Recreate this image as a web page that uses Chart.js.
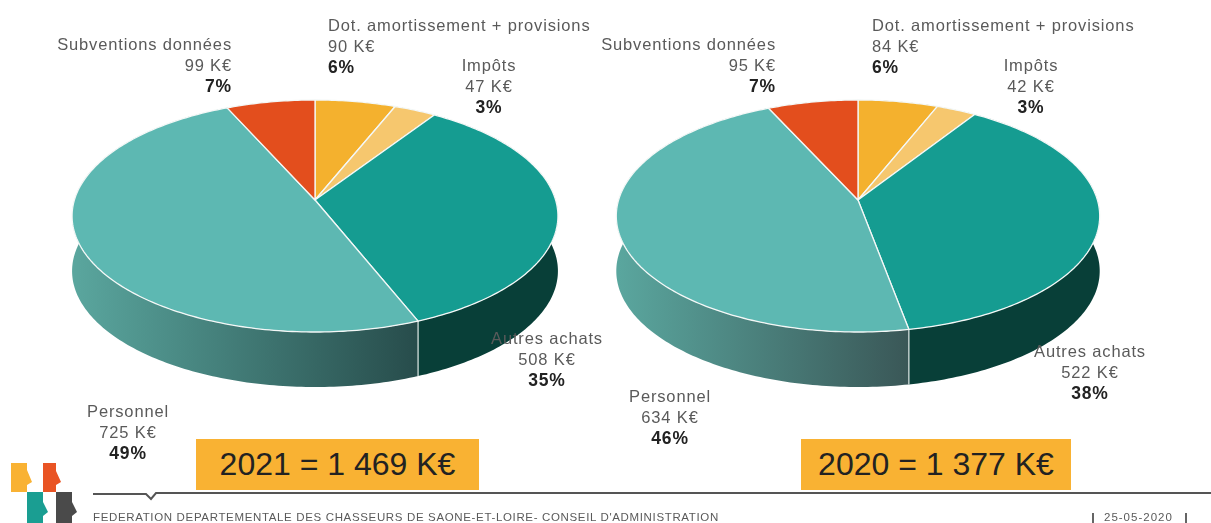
<!DOCTYPE html>
<html>
<head>
<meta charset="utf-8">
<script src="https://cdn.jsdelivr.net/npm/chart.js@4"></script>
<style>
html, body { margin: 0; background: #fff; }
#page { position: relative; width: 1211px; height: 523px; overflow: hidden; background: #fff; font-family: "Liberation Sans", Arial, sans-serif; filter: blur(0.7px); }
canvas { position: absolute; }
.lbl { position: absolute; font-size: 16.5px; line-height: 21px; color: #5a5a5a; white-space: nowrap; letter-spacing: 0.85px; }
.lbl b { color: #222; font-size: 17.5px; }
.total { position: absolute; top: 439px; height: 51px; line-height: 51px; background: #f9b233; color: #222; font-size: 32px; text-align: center; }
#foot { position: absolute; left: 0; top: 0; }
.footText { position: absolute; font-size: 11.5px; color: #5a5a5a; white-space: nowrap; }
</style>
</head>
<body>
<div id="page">
  <canvas id="pie2021" width="500" height="384" style="left:65px;top:8px"></canvas>
  <canvas id="pie2020" width="500" height="384" style="left:608px;top:8px"></canvas>
  <svg id="foot" width="1211" height="523">
    <polygon points="11,463 27,463 27,470 32,482 27,485 27,492 11,492" fill="#f9b233"/>
    <polygon points="43,463 56,463 56,471 61,482 56,485 56,492 43,492" fill="#e95424"/>
    <polygon points="27,492 43,492 43,502 48,512 43,516 43,523 27,523" fill="#1a9e92"/>
    <polygon points="56,492 72,492 72,502 77,512 72,516 72,523 56,523" fill="#4a4a4a"/>
    <path d="M93 494 H146 L151 499 L156 493 H1211" fill="none" stroke="#555" stroke-width="2"/>
    <path d="M1093 513 V523 M1186 513 V523" stroke="#333" stroke-width="1.5"/>
  </svg>
  <div class="total" style="left:196px;width:283px" id="total2021"></div>
  <div class="total" style="left:801px;width:270px" id="total2020"></div>
  <div class="footText" style="left:93px;top:511px;letter-spacing:0.65px">FEDERATION DEPARTEMENTALE DES CHASSEURS DE SAONE-ET-LOIRE- CONSEIL D'ADMINISTRATION</div>
  <div class="footText" style="left:1104px;top:511px;letter-spacing:1px">25-05-2020</div>
</div>
<script>
// data ---------------------------------------------
const categories = ["Dot. amortissement + provisions", "Impôts", "Autres achats", "Personnel", "Subventions données"];
const values2021 = [90, 47, 508, 725, 99];
const values2020 = [84, 42, 522, 634, 95];
const percents2021 = ["6%", "3%", "35%", "49%", "7%"];
const percents2020 = ["6%", "3%", "38%", "46%", "7%"];
const totals = ["2021 = 1 469 K€", "2020 = 1 377 K€"];

const topColors = ["#f4b12e", "#f6c76e", "#159c91", "#5db8b2", "#e34e1d"];
const sideColors = ["#a87a1c", "#a88a4c", "#083f38", null, "#9a3412"];

// label boxes, one per category: anchor x, first line y, alignment
const pos2021 = [[328, 25, "left"], [489, 65, "center"], [547, 338, "center"], [128, 411, "center"], [232, 44, "right"]];
const pos2020 = [[872, 25, "left"], [1031, 65, "center"], [1090, 351, "center"], [670, 396, "center"], [776, 44, "right"]];

// fake 3D pie: the library computes the arcs, this plugin projects them ------
const persp = -0.138; // tilt of the disc
const depth = 55;

function project(cx, cy, sx, sy, angle) {
  const u = Math.cos(angle), v = Math.sin(angle), d = 1 + persp * v;
  return [cx + (sx * u) / d, cy + (sy * v) / d];
}

function arcPoints(el, sx, sy) {
  const { x, y, startAngle, endAngle } = el.getProps(["x", "y", "startAngle", "endAngle"]);
  const pts = [];
  const steps = Math.max(8, Math.ceil((endAngle - startAngle) * 60));
  for (let i = 0; i <= steps; i++) {
    pts.push(project(x, y, sx, sy, startAngle + ((endAngle - startAngle) * i) / steps));
  }
  return pts;
}

const tiltPlugin = {
  id: "tilt",
  beforeDatasetDraw(chart, args, opts) {
    const ctx = chart.ctx;
    const els = args.meta.data;
    const sx = opts.sx, sy = 113.8;
    ctx.save();
    // side band first, the top face hides the back of it
    els.forEach((el, i) => {
      const pts = arcPoints(el, sx, sy);
      ctx.beginPath();
      pts.forEach((p, k) => (k ? ctx.lineTo(p[0], p[1]) : ctx.moveTo(p[0], p[1])));
      pts.slice().reverse().forEach((p) => ctx.lineTo(p[0], p[1] + depth));
      ctx.closePath();
      if (sideColors[i]) {
        ctx.fillStyle = sideColors[i];
      } else {
        const seam = pts[0][0];
        const g = ctx.createLinearGradient(el.x - sx, 0, seam, 0);
        g.addColorStop(0, opts.gradFrom);
        g.addColorStop(1, opts.gradTo);
        ctx.fillStyle = g;
      }
      ctx.fill();
    });
    // white seam between the two visible sides
    const seamPt = arcPoints(els[3], sx, sy)[0];
    ctx.strokeStyle = "#dfe9e7";
    ctx.lineWidth = 1.2;
    ctx.beginPath();
    ctx.moveTo(seamPt[0], seamPt[1]);
    ctx.lineTo(seamPt[0], seamPt[1] + depth);
    ctx.stroke();
    // top face
    els.forEach((el, i) => {
      const pts = arcPoints(el, sx, sy);
      ctx.beginPath();
      ctx.moveTo(el.x, el.y);
      pts.forEach((p) => ctx.lineTo(p[0], p[1]));
      ctx.closePath();
      ctx.fillStyle = topColors[i];
      ctx.fill();
      ctx.strokeStyle = "#f4f8f7";
      ctx.lineWidth = 1.3;
      ctx.lineJoin = "round";
      ctx.stroke();
    });
    ctx.restore();
    return false;
  },
};

function makePie(id, values, sx, gradFrom, gradTo) {
  return new Chart(document.getElementById(id), {
    type: "pie",
    data: {
      labels: categories,
      datasets: [{ data: values, backgroundColor: topColors, borderWidth: 0 }],
    },
    options: {
      responsive: false,
      animation: false,
      plugins: {
        legend: { display: false },
        tooltip: { enabled: false },
        tilt: { sx: sx, gradFrom: gradFrom, gradTo: gradTo },
      },
    },
    plugins: [tiltPlugin],
  });
}

makePie("pie2021", values2021, 240.6, "#5aa69e", "#274c4b");
makePie("pie2020", values2020, 239.4, "#5aa69e", "#3a5757");

// labels ---------------------------------------------
function addLabels(values, percents, pos) {
  const page = document.getElementById("page");
  categories.forEach((name, i) => {
    const d = document.createElement("div");
    d.className = "lbl";
    const [x, y, align] = pos[i];
    d.style.top = y - 10 + "px";
    d.style.textAlign = align;
    if (align === "left") d.style.left = x + "px";
    if (align === "right") d.style.right = 1211 - x + "px";
    if (align === "center") { d.style.left = x + "px"; d.style.transform = "translateX(-50%)"; }
    d.innerHTML = name + "<br>" + values[i] + " K€<br><b>" + percents[i] + "</b>";
    page.appendChild(d);
  });
}
addLabels(values2021, percents2021, pos2021);
addLabels(values2020, percents2020, pos2020);
document.getElementById("total2021").textContent = totals[0];
document.getElementById("total2020").textContent = totals[1];
</script>
</body>
</html>
